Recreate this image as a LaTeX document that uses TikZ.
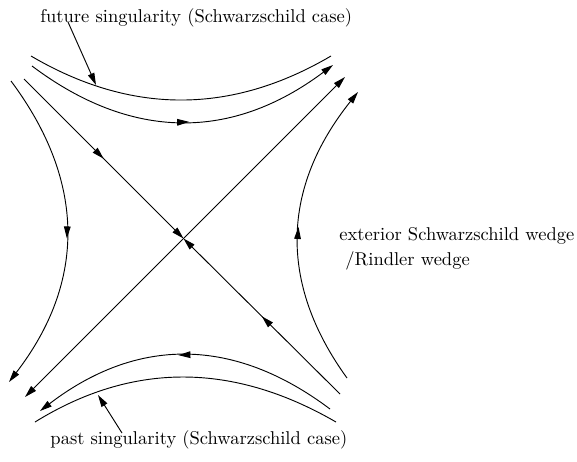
\documentclass[tikz,border=0pt]{standalone}
\usepackage{tikz}
\usetikzlibrary{arrows.meta,decorations.markings}

\begin{document}
\begin{tikzpicture}[
    x=0.54pt, y=-0.54pt,
    line width=0.5pt,
    >={Triangle[length=6.5pt,width=3.6pt]},
    flow/.style={postaction={decorate},
        decoration={markings, mark=at position #1 with {\arrow{>}}}},
    flow/.default=0.5,
    lab/.style={anchor=base west, inner sep=0pt},
    ]
\useasboundingbox (0,0) rectangle (577,461);

% bifurcation point
\coordinate (o) at (183.5,238.5);

% horizons
\draw[->, flow] (24,79) -- (o);
\draw[->, flow] (340,394) -- (o);
\draw[<->] (25,397) -- (345,77);

% left / right wedge orbits
\draw[->, flow=0.52] (11,81) .. controls (86.3,182) and (85.7,282.3) .. (9,382);
\draw[->, flow=0.52] (347,378) .. controls (278,282.7) and (281.7,187.3) .. (358,92);

% future / past orbits and singularities
\draw[->, flow=0.52] (32,66) .. controls (131.7,141) and (232,140.7) .. (333,65);
\draw (31,56) .. controls (131,114.7) and (231,114.7) .. (331,56);
\draw[->, flow=0.52] (330,409) .. controls (233.3,336.3) and (136.7,337) .. (40,411);
\draw (35,422) .. controls (132,362) and (232.3,362) .. (336,422);

% labels
\node[lab] (futlab) at (40,22) {future singularity (Schwarzschild case)};
\node[lab] (pastlab) at (50,444) {past singularity (Schwarzschild case)};
\node[lab] (extlab) at (339,240) {exterior Schwarzschild wedge};
\node[lab] (rindlab) at (345,265) {/Rindler wedge};

\coordinate (futtail) at (68,22);
\coordinate (futtip) at (96,85);
\coordinate (pasttail) at (122,433);
\coordinate (pasttip) at (98,395);
\draw[->] (futtail) -- (futtip);
\draw[->] (pasttail) -- (pasttip);
\end{tikzpicture}
\end{document}
